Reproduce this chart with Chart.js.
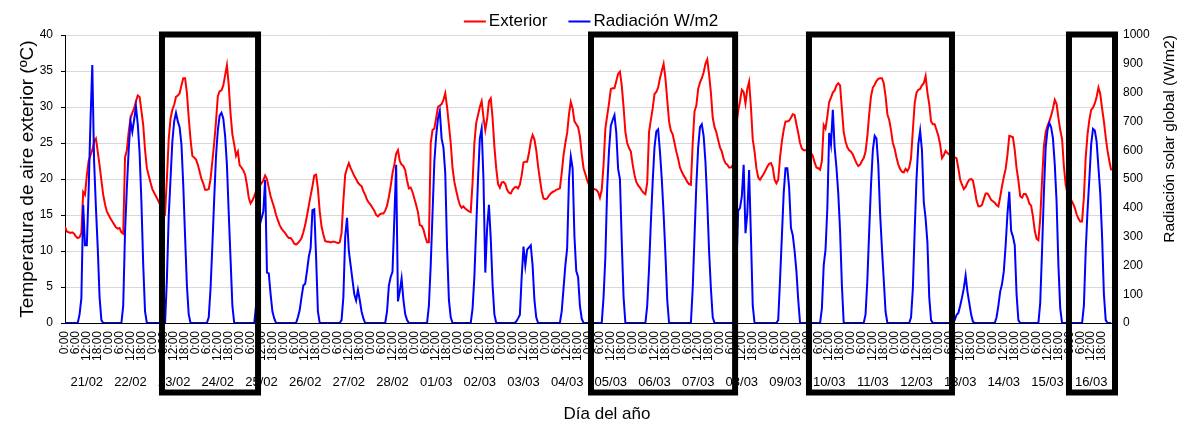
<!DOCTYPE html>
<html>
<head>
<meta charset="utf-8">
<title>Temperatura exterior y radiación solar</title>
<script src="https://cdn.jsdelivr.net/npm/chart.js"></script>
<style>
  html, body { margin: 0; padding: 0; background: #fff; }
  #grafico { display: block; }
</style>
</head>
<body>
<canvas id="grafico" width="1180" height="421"></canvas>
<script>
// días del periodo (una fila de 24 valores horarios por día)
const fechas = ['21/02', '22/02', '23/02', '24/02', '25/02', '26/02', '27/02', '28/02',
                '01/03', '02/03', '03/03', '04/03', '05/03', '06/03', '07/03', '08/03',
                '09/03', '10/03', '11/03', '12/03', '13/03', '14/03', '15/03', '16/03'];
const horas = ['0:00', '6:00', '12:00', '18:00'];

// temperatura de aire exterior (ºC), 0:00 ... 23:00
const exterior = [
  [13.4,12.7,12.6,12.5,12.6,12.4,12.0,11.8,11.9,12.5,18.2,17.8,20.5,22.5,23.3,24.0,25.2,25.6,23.8,21.9,19.8,17.8,16.5,15.5],
  [15.0,14.5,14.1,13.7,13.3,13.1,13.2,12.6,12.4,23.0,24.0,26.5,28.4,29.2,29.8,30.8,31.6,31.4,29.5,27.5,24.0,21.5,20.5,19.5],
  [18.6,18.1,17.6,17.1,16.6,16.2,15.6,15.2,20.0,25.5,28.4,29.6,30.3,31.4,31.6,31.9,33.0,34.0,34.0,32.0,28.5,25.5,23.2,23.0],
  [22.7,22.0,21.0,20.0,19.4,18.5,18.5,18.6,20.0,22.5,25.0,28.0,31.5,32.2,32.3,33.0,34.4,35.8,33.0,29.0,26.2,24.8,23.2,23.8],
  [21.9,21.6,21.2,20.6,19.2,17.4,16.6,17.0,17.6,18.3,18.8,19.1,19.4,19.8,20.5,20.0,18.8,17.6,16.8,16.0,15.0,14.3,13.6,13.1],
  [12.8,12.5,12.1,11.8,11.8,11.5,11.0,10.9,11.1,11.4,11.8,12.6,13.6,14.9,16.3,17.7,19.0,20.5,20.6,18.7,15.5,13.4,12.3,11.4],
  [11.3,11.3,11.2,11.3,11.3,11.2,11.1,11.2,12.5,17.0,20.6,21.5,22.2,21.5,21.0,20.4,20.0,19.5,19.2,19.0,18.3,17.8,17.1,16.7],
  [16.4,16.0,15.6,15.0,14.8,15.1,15.2,15.2,15.6,16.3,17.5,19.0,20.8,22.0,23.5,24.0,22.5,22.0,21.8,21.2,19.8,18.7,18.8,18.2],
  [17.3,16.4,15.4,13.6,13.5,13.0,12.0,11.2,11.2,25.0,26.8,27.0,28.5,30.0,30.2,30.4,31.0,31.9,30.0,27.5,25.0,21.5,19.6,18.4],
  [17.3,16.4,16.0,16.2,15.9,15.7,15.5,15.4,19.5,25.0,27.8,28.9,30.0,30.8,28.6,26.8,28.3,30.8,31.2,28.5,24.5,21.5,19.3,18.8],
  [19.5,19.6,19.3,18.5,18.1,18.0,18.5,18.8,18.9,18.7,19.2,20.5,22.3,22.4,22.4,23.6,25.2,26.1,25.5,24.0,21.8,20.0,18.3,17.3],
  [17.2,17.3,17.7,18.0,18.2,18.3,18.5,18.6,18.7,20.8,23.3,25.0,26.4,29.0,30.7,29.8,28.0,27.6,27.2,25.9,23.5,21.5,20.7,19.8],
  [19.2,18.9,18.7,18.6,18.5,18.2,17.4,18.5,22.0,27.0,28.8,30.5,32.5,32.6,32.6,33.6,34.6,34.9,33.0,30.0,26.5,25.0,24.3,23.8],
  [22.0,20.6,19.6,19.1,18.8,18.4,18.1,17.9,19.5,26.5,28.2,29.8,31.8,32.1,32.7,34.0,35.0,36.0,34.0,31.0,28.0,26.7,26.2,25.0],
  [23.8,22.8,21.6,21.0,20.5,20.1,19.6,19.3,19.2,25.0,29.4,30.2,32.5,33.4,34.0,34.8,36.0,36.6,34.5,32.0,28.5,27.2,26.5,25.4],
  [24.4,23.8,22.8,22.2,22.0,21.6,21.6,21.9,24.0,27.5,29.5,30.8,32.4,32.1,30.5,32.5,33.5,30.0,25.5,23.8,21.5,20.2,19.9,20.3],
  [20.7,21.2,21.7,22.1,22.2,21.6,19.9,19.4,19.9,23.0,25.2,26.8,28.0,28.0,28.1,28.5,29.0,28.9,27.6,26.4,25.0,24.2,24.0,24.0],
  [24.0,23.9,23.6,23.2,22.3,21.6,21.5,21.3,22.5,27.5,27.0,28.7,30.7,31.3,32.0,32.3,33.0,33.3,33.0,29.7,26.5,25.2,24.4,24.0],
  [23.8,23.4,22.8,22.2,21.8,22.0,22.5,22.9,23.8,26.0,29.0,31.5,32.7,33.1,33.6,33.9,34.0,34.0,33.3,31.5,29.0,28.2,26.8,25.0],
  [24.2,23.0,22.0,21.4,21.0,20.9,21.4,21.1,21.6,22.9,26.8,30.5,32.0,32.4,32.5,33.0,33.3,34.3,32.0,30.4,28.0,27.6,27.6,26.8],
  [26.0,24.8,22.9,23.3,23.9,23.6,23.4,23.2,23.1,23.0,22.9,21.5,19.9,19.2,18.6,18.9,19.5,19.9,20.0,19.8,18.5,17.0,16.2,16.2],
  [16.4,17.2,18.0,18.0,17.6,17.1,16.9,16.7,16.4,16.2,17.5,19.0,20.3,21.4,23.4,26.0,25.9,25.8,24.0,21.5,19.8,17.6,17.4,17.9],
  [17.9,17.4,16.6,16.3,14.8,12.8,11.7,11.5,14.5,19.8,24.5,26.5,27.4,28.0,28.8,29.8,31.0,30.4,28.5,26.8,25.6,21.8,19.2,18.0],
  [17.7,17.1,16.6,16.0,15.1,14.5,14.1,14.1,17.5,23.0,26.2,28.2,29.6,29.9,30.5,31.4,32.7,31.8,29.8,28.0,25.8,23.9,22.5,21.2]
];

// radiación solar global (W/m2), 0:00 ... 23:00
const radiacion = [
  [0,0,0,0,0,0,0,0,30,86,410,270,270,460,700,896,560,400,260,90,10,0,0,0],
  [0,0,0,0,0,0,0,0,60,317,470,600,700,664,705,751,690,590,420,200,39,0,0,0],
  [0,0,0,0,0,0,0,0,150,370,500,630,700,730,700,680,620,479,300,130,30,0,0,0],
  [0,0,0,0,0,0,0,20,120,270,430,580,670,720,730,710,650,549,380,220,60,0,0,0],
  [0,0,0,0,0,0,0,0,0,60,250,340,363,387,497,175,172,100,40,16,0,0,0,0],
  [0,0,0,0,0,0,0,0,20,45,90,130,136,180,230,260,392,395,230,40,0,0,0,0],
  [0,0,0,0,0,0,0,0,10,90,300,365,250,200,150,100,78,115,80,40,16,0,0,0],
  [0,0,0,0,0,0,0,0,0,40,130,160,178,360,549,75,110,155,80,30,10,0,0,0],
  [0,0,0,0,0,0,0,0,60,200,380,560,650,710,736,640,610,520,260,80,20,0,0,0],
  [0,0,0,0,0,0,0,0,50,160,330,500,640,675,500,175,330,410,294,132,30,0,0,0],
  [0,0,0,0,0,0,0,0,5,16,28,160,265,200,255,262,270,200,80,20,0,0,0,0],
  [0,0,0,0,0,0,0,0,0,40,120,200,260,500,578,537,300,180,160,60,15,0,0,0],
  [0,0,0,0,0,0,0,0,90,230,470,600,685,705,722,660,535,500,282,90,0,0,0,0],
  [0,0,0,0,0,0,0,0,60,190,350,490,610,665,672,595,500,380,240,80,0,0,0,0],
  [0,0,0,0,0,0,0,0,0,120,300,480,610,680,690,650,560,420,250,120,20,0,0,0],
  [0,0,0,0,0,0,0,0,0,180,390,400,440,549,312,380,531,300,60,0,0,0,0,0],
  [0,0,0,0,0,0,0,0,10,150,300,450,537,537,470,330,305,250,180,80,0,0,0,0],
  [0,0,0,0,0,0,0,0,50,200,255,400,660,620,740,610,540,450,320,130,0,0,0,0],
  [0,0,0,0,0,0,0,0,30,150,320,480,600,650,640,549,380,260,150,39,0,0,0,0],
  [0,0,0,0,0,0,0,0,0,20,120,320,500,620,667,600,420,363,280,90,10,0,0,0],
  [0,0,0,0,0,0,0,0,0,10,28,35,60,88,120,165,109,70,30,5,0,0,0,0],
  [0,0,0,0,0,0,0,0,20,60,109,135,180,270,380,456,320,300,270,100,10,0,0,0],
  [0,0,0,0,0,0,0,0,70,250,450,610,670,695,680,641,550,420,200,51,0,0,0,0],
  [0,0,0,0,0,0,0,0,60,250,390,500,620,674,668,630,540,450,300,100,10,0,0,0]
];

// periodos destacados con recuadro (horas desde 21/02 0:00)
const cajas = [[53.3, 106.1], [289.1, 368.3], [408.9, 487.5], [551.8, 577.1]];

const totalHoras = fechas.length * 24;
const fuente = '"Liberation Sans", Arial, sans-serif';

function serie(dias) {
  return dias.flat().map((v, i) => ({ x: i, y: v }));
}

const extras = {
  id: 'extras',
  afterDraw(chart) {
    const { ctx, chartArea, scales } = chart;
    ctx.save();

    // recuadros negros
    ctx.strokeStyle = '#000';
    ctx.lineWidth = 6;
    const top = chartArea.top - 0.5;
    const bottom = chart.height - 28.5;
    cajas.forEach(([a, b]) => {
      const x0 = scales.x.getPixelForValue(a);
      const x1 = scales.x.getPixelForValue(b);
      ctx.strokeRect(x0, top, x1 - x0, bottom - top);
    });

    // leyenda
    ctx.font = '17px ' + fuente;
    ctx.textBaseline = 'middle';
    ctx.textAlign = 'left';
    const items = chart.data.datasets.map(d => ({ text: d.label, color: d.borderColor }));
    const lineLen = 22, gap = 3, sep = 21;
    let total = 0;
    items.forEach((it, i) => {
      it.w = ctx.measureText(it.text).width;
      total += lineLen + gap + it.w + (i ? sep : 0);
    });
    let x = (chartArea.left + chartArea.right) / 2 + 2 - total / 2;
    const y = 21.5;
    items.forEach(it => {
      ctx.strokeStyle = it.color;
      ctx.lineWidth = 2;
      ctx.beginPath();
      ctx.moveTo(x, y);
      ctx.lineTo(x + lineLen, y);
      ctx.stroke();
      ctx.fillStyle = '#000';
      ctx.fillText(it.text, x + lineLen + gap, y);
      x += lineLen + gap + it.w + sep;
    });

    // título eje derecho
    ctx.save();
    ctx.font = '15.5px ' + fuente;
    ctx.textAlign = 'center';
    ctx.translate(chart.width - 10, chartArea.top + 104);
    ctx.rotate(-Math.PI / 2);
    ctx.fillText('Radiación solar global (W/m2)', 0, 0);
    ctx.restore();

    // título eje x
    ctx.font = '17px ' + fuente;
    ctx.textAlign = 'center';
    ctx.fillText('Día del año', (chartArea.left + chartArea.right) / 2 + 18, chart.height - 7);

    ctx.restore();
  }
};

new Chart(document.getElementById('grafico'), {
  type: 'line',
  data: {
    datasets: [
      {
        label: 'Exterior',
        data: serie(exterior),
        borderColor: '#ff0000',
        borderWidth: 2,
        pointRadius: 0,
        tension: 0,
        xAxisID: 'x',
        yAxisID: 'y',
        order: 2
      },
      {
        label: 'Radiación W/m2',
        data: serie(radiacion),
        borderColor: '#0000ff',
        borderWidth: 2,
        pointRadius: 0,
        tension: 0,
        xAxisID: 'x',
        yAxisID: 'y2',
        order: 1
      }
    ]
  },
  options: {
    responsive: false,
    animation: false,
    layout: { padding: { top: 35, left: 0, right: 0, bottom: 0 } },
    plugins: {
      legend: { display: false },
      tooltip: { enabled: false }
    },
    scales: {
      x: {
        type: 'linear',
        position: 'bottom',
        weight: 0,
        min: 0,
        max: totalHoras,
        grid: { display: false, drawTicks: false },
        border: { color: '#000', width: 1 },
        afterBuildTicks: s => {
          s.ticks = [];
          for (let h = 0; h < totalHoras; h += 6) s.ticks.push({ value: h });
        },
        ticks: {
          autoSkip: false,
          minRotation: 90,
          maxRotation: 90,
          padding: 8,
          color: '#000',
          font: { family: fuente, size: 12 },
          callback: v => horas[(v / 6) % 4]
        },
        afterFit: s => { s.height = 50; }
      },
      x2: {
        type: 'category',
        position: 'bottom',
        weight: 1,
        labels: fechas,
        offset: true,
        grid: { display: false, drawTicks: false },
        border: { display: false },
        ticks: {
          autoSkip: false,
          maxRotation: 0,
          padding: 2,
          color: '#000',
          font: { family: fuente, size: 13 }
        },
        afterFit: s => { s.height = 48; }
      },
      y: {
        position: 'left',
        min: 0,
        max: 40,
        grid: { color: '#d9d9d9', tickColor: '#000', tickLength: 4 },
        border: { color: '#000', width: 1 },
        ticks: {
          stepSize: 5,
          padding: 8,
          color: '#000',
          font: { family: fuente, size: 12 }
        },
        title: {
          display: true,
          text: 'Temperatura de aire exterior (ºC)',
          color: '#000',
          font: { family: fuente, size: 19 },
          padding: { top: 16, bottom: 0 }
        },
        afterFit: s => { s.width = 65; }
      },
      y2: {
        position: 'right',
        min: 0,
        max: 1000,
        grid: { drawOnChartArea: false, tickColor: '#000', tickLength: 4 },
        border: { color: '#000', width: 1 },
        ticks: {
          stepSize: 100,
          padding: 6,
          color: '#000',
          font: { family: fuente, size: 12 },
          callback: v => String(v)
        },
        afterFit: s => { s.width = 67; }
      }
    }
  },
  plugins: [extras]
});
</script>
</body>
</html>
